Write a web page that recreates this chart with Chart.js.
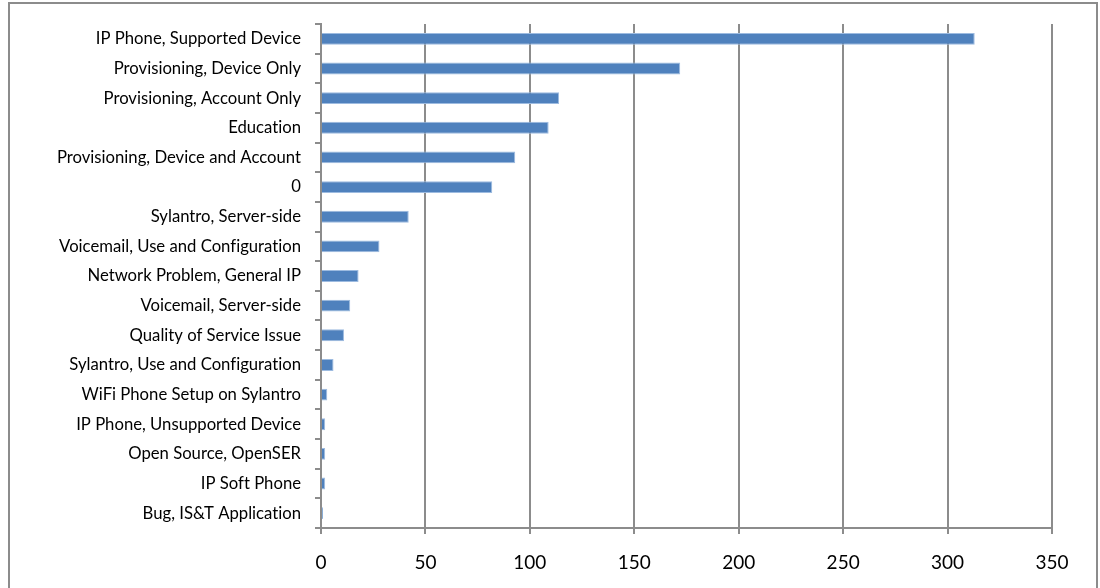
<!DOCTYPE html>
<html>
<head>
<meta charset="utf-8">
<script src="https://cdn.jsdelivr.net/npm/chart.js@4/dist/chart.umd.min.js"></script>
<style>
html,body{margin:0;padding:0;background:#fff;}
#wrap{position:relative;width:1100px;height:588px;}
</style>
</head>
<body>
<div id="wrap"><canvas id="c" width="1100" height="588"></canvas></div>
<script>
const categories = [
  "IP Phone, Supported Device",
  "Provisioning, Device Only",
  "Provisioning, Account Only",
  "Education",
  "Provisioning, Device and Account",
  "0",
  "Sylantro, Server-side",
  "Voicemail, Use and Configuration",
  "Network Problem, General IP",
  "Voicemail, Server-side",
  "Quality of Service Issue",
  "Sylantro, Use and Configuration",
  "WiFi Phone Setup on Sylantro",
  "IP Phone, Unsupported Device",
  "Open Source, OpenSER",
  "IP Soft Phone",
  "Bug, IS&T Application"
];
const counts = [313, 172, 114, 109, 93, 82, 42, 28, 18, 14, 11, 6, 3, 2, 2, 2, 1];
const xMin = 0, xMax = 350, xStep = 50;

const frame = {
  id: 'frame',
  beforeDraw(chart) {
    try { chart.ctx.textRendering = 'optimizeSpeed'; } catch (e) {}
  },
  afterDraw(chart) {
    const ctx = chart.ctx;
    ctx.save();
    ctx.strokeStyle = '#8c8c8c';
    ctx.lineWidth = 2;
    ctx.strokeRect(9, 3, 1088, 610);
    ctx.restore();
  }
};

new Chart(document.getElementById('c'), {
  type: 'bar',
  data: {
    labels: categories,
    datasets: [{
      data: counts,
      backgroundColor: '#4f81bd',
      borderColor: '#9dbbe0',
      borderWidth: 1,
      borderSkipped: 'start',
      barPercentage: 0.4,
      categoryPercentage: 1.0
    }]
  },
  options: {
    indexAxis: 'y',
    responsive: false,
    animation: false,
    layout: { padding: { top: 23, right: 48, left: 0, bottom: 0 } },
    plugins: { legend: { display: false }, tooltip: { enabled: false } },
    scales: {
      x: {
        min: xMin, max: xMax,
        ticks: { stepSize: xStep, color: '#000', font: { family: 'Lato', size: 19 }, padding: 17 },
        grid: { color: '#8c8c8c', lineWidth: 2, tickLength: 6, drawTicks: true },
        border: { color: '#8c8c8c', width: 2 },
        afterFit(s) { s.height = 60; }
      },
      y: {
        ticks: { color: '#000', font: { family: 'Lato', size: 16.7 }, padding: 14, autoSkip: false },
        grid: { drawOnChartArea: false, color: '#8c8c8c', lineWidth: 2, tickLength: 6, offset: true },
        border: { color: '#8c8c8c', width: 2 },
        afterFit(s) { s.width = 321; }
      }
    }
  },
  plugins: [frame]
});
</script>
</body>
</html>
